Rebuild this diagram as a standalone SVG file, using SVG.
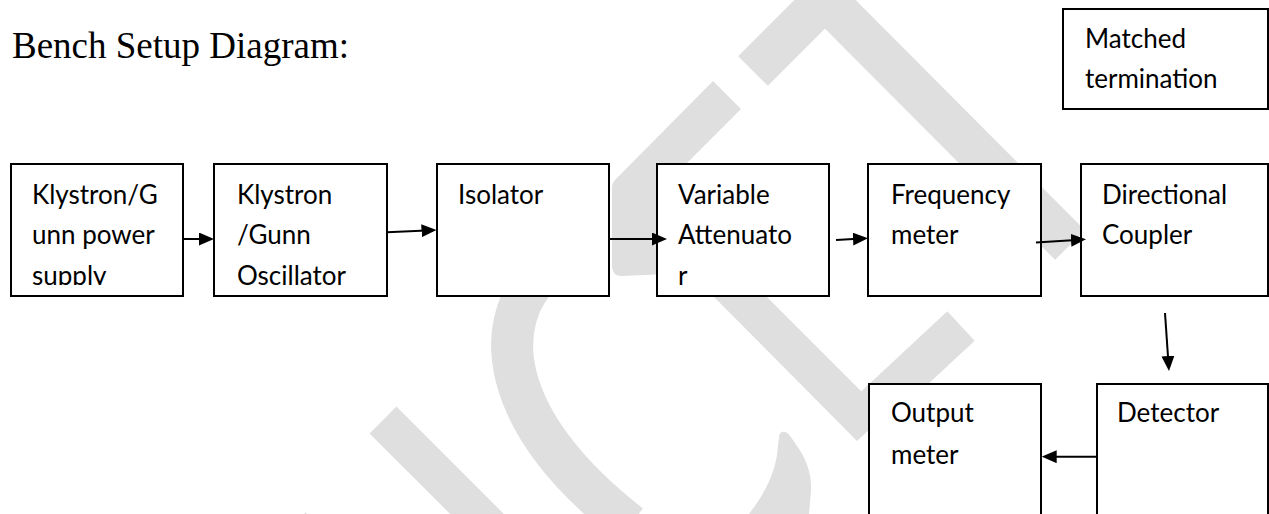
<svg xmlns="http://www.w3.org/2000/svg" width="1269" height="514" viewBox="0 0 1269 514">
<defs>
<style>
.wm{fill:none;stroke:#dfdfdf;stroke-linecap:butt;stroke-linejoin:miter}
.wmf{fill:#dfdfdf;stroke:none}
.box{fill:#fff;stroke:#000;stroke-width:2}
.lbl{font-family:Lato,"Liberation Sans",sans-serif;font-size:26px;fill:#000}
.title{font-family:"Liberation Serif","Times New Roman",serif;font-size:37px;fill:#000}
.conn{stroke:#000;stroke-width:2;fill:none;marker-end:url(#ah)}
</style>
<marker id="ah" viewBox="0 0 15 13" refX="5" refY="6.5" markerWidth="15" markerHeight="13" markerUnits="userSpaceOnUse" orient="auto">
<path d="M0,0 L15,6.5 L0,13 Z" fill="#000"/>
</marker>
<clipPath id="row1"><rect x="0" y="150" width="1269" height="135"/></clipPath>
</defs>
<rect width="1269" height="514" fill="#fff"/>
<g id="watermark">
<path class="wm" stroke-width="42" d="M753,71 L825,-1 L1070,245"/>
<path class="wmf" d="M713,81 L741,109 L660,190 L885,415 L857,441 L719,302 L690,273 L622,276 Q612,276 612,266 L612,188 Q612,183 615,180 Z"/>
<path class="wm" stroke-width="42" d="M545,270 C490,320 495,420 630,525"/>
<path class="wm" stroke-width="38" d="M383,420 L560,597"/>
<path class="wm" stroke-width="38" stroke-linecap="round" d="M292,526 L392,626"/>
<path class="wmf" d="M779,438 C779,430 786,430 790,436 C800,450 812,465 811,490 L809,514 L805,520 L744,520 C765,495 777,470 778,445 Z"/>
<path class="wm" stroke-width="40" d="M961,326 L860,420"/>
</g>
<text class="title" x="12" y="58">Bench Setup Diagram:</text>
<g id="matched">
<rect class="box" x="1063" y="9" width="205" height="100"/>
<text class="lbl" x="1085" y="48">Matched</text>
<text class="lbl" x="1085" y="88">termination</text>
</g>
<g id="supply">
<rect class="box" x="11" y="164" width="172" height="132"/>
<g clip-path="url(#row1)">
<text class="lbl" x="32" y="203.5">Klystron/G</text>
<text class="lbl" x="32" y="244">unn power</text>
<text class="lbl" x="32" y="284.5">supply</text>
</g>
</g>
<g id="oscillator">
<rect class="box" x="214" y="164" width="173" height="132"/>
<g clip-path="url(#row1)">
<text class="lbl" x="237" y="203.5">Klystron</text>
<text class="lbl" x="237" y="244">/Gunn</text>
<text class="lbl" x="237" y="284.5">Oscillator</text>
</g>
</g>
<g id="isolator">
<rect class="box" x="437" y="164" width="172" height="132"/>
<text class="lbl" x="458" y="203.5">Isolator</text>
</g>
<g id="attenuator">
<rect class="box" x="657" y="164" width="172" height="132"/>
<g clip-path="url(#row1)">
<text class="lbl" x="678" y="203.5">Variable</text>
<text class="lbl" x="678" y="244">Attenuato</text>
<text class="lbl" x="678" y="284.5">r</text>
</g>
</g>
<g id="frequency">
<rect class="box" x="868" y="164" width="173" height="132"/>
<text class="lbl" x="891" y="203.5">Frequency</text>
<text class="lbl" x="891" y="244">meter</text>
</g>
<g id="coupler">
<rect class="box" x="1081" y="164" width="187" height="132"/>
<text class="lbl" x="1102" y="203.5">Directional</text>
<text class="lbl" x="1102" y="244">Coupler</text>
</g>
<g id="output">
<rect class="box" x="869" y="384" width="172" height="140"/>
<text class="lbl" x="891" y="422">Output</text>
<text class="lbl" x="891" y="464">meter</text>
</g>
<g id="detector">
<rect class="box" x="1097" y="384" width="171" height="140"/>
<text class="lbl" x="1117" y="422">Detector</text>
</g>
<g id="connectors">
<line class="conn" x1="183" y1="239" x2="204" y2="239"/>
<line class="conn" x1="387" y1="232.3" x2="426.5" y2="230.5"/>
<line class="conn" x1="609" y1="239" x2="657" y2="239"/>
<line class="conn" x1="836" y1="240" x2="858" y2="238.8"/>
<line class="conn" x1="1036" y1="242.5" x2="1076" y2="239.9"/>
<line class="conn" x1="1165" y1="313" x2="1168.3" y2="361"/>
<line class="conn" x1="1097" y1="456.7" x2="1051.7" y2="456.7"/>
</g>
</svg>
